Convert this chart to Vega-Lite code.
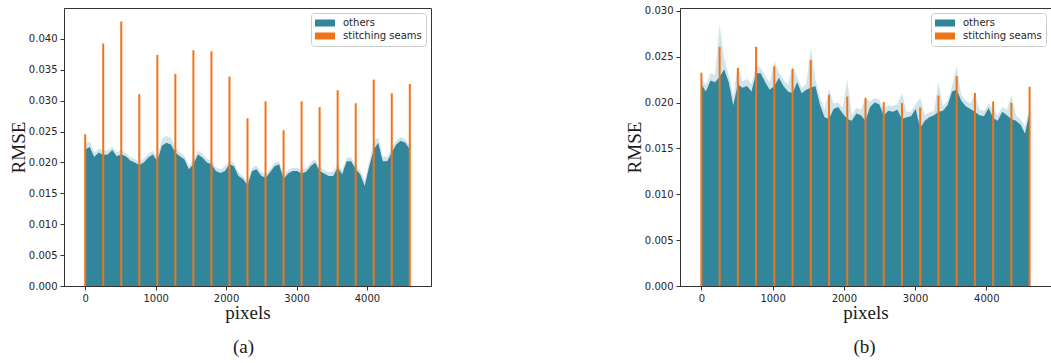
{
  "$schema": "https://vega.github.io/schema/vega-lite/v6.json",
  "background": "white",
  "padding": {"left": 8, "top": 5, "right": 0, "bottom": 5},
  "config": {
    "font": "DejaVu Sans",
    "view": {"stroke": "#333333", "strokeWidth": 1},
    "axis": {"labelFont": "DejaVu Sans", "labelFontSize": 10, "labelColor": "#262626", "tickColor": "#333333", "domainColor": "#333333", "tickSize": 4, "grid": false, "titleFont": "Liberation Serif", "titleFontSize": 19, "titleFontWeight": "normal", "titleColor": "#1a1a1a", "labelPadding": 3, "labelOverlap": false},
    "axisY": {"titlePadding": 0},
    "axisX": {"titlePadding": 0},
    "title": {"font": "Liberation Serif", "fontSize": 19, "fontWeight": "normal", "color": "#1a1a1a"}
  },
  "datasets": {
    "a_profile": [
      {"px": 0, "lo": 0.0221, "hi": 0.0230, "series": "others"},
      {"px": 64, "lo": 0.0225, "hi": 0.0234, "series": "others"},
      {"px": 128, "lo": 0.0209, "hi": 0.0216, "series": "others"},
      {"px": 192, "lo": 0.0216, "hi": 0.0222, "series": "others"},
      {"px": 256, "lo": 0.0212, "hi": 0.0220, "series": "others"},
      {"px": 320, "lo": 0.0213, "hi": 0.0219, "series": "others"},
      {"px": 384, "lo": 0.0220, "hi": 0.0226, "series": "others"},
      {"px": 448, "lo": 0.0210, "hi": 0.0217, "series": "others"},
      {"px": 512, "lo": 0.0213, "hi": 0.0220, "series": "others"},
      {"px": 576, "lo": 0.0210, "hi": 0.0215, "series": "others"},
      {"px": 640, "lo": 0.0203, "hi": 0.0209, "series": "others"},
      {"px": 704, "lo": 0.0200, "hi": 0.0205, "series": "others"},
      {"px": 768, "lo": 0.0196, "hi": 0.0202, "series": "others"},
      {"px": 832, "lo": 0.0200, "hi": 0.0206, "series": "others"},
      {"px": 896, "lo": 0.0208, "hi": 0.0214, "series": "others"},
      {"px": 960, "lo": 0.0213, "hi": 0.0219, "series": "others"},
      {"px": 1024, "lo": 0.0202, "hi": 0.0209, "series": "others"},
      {"px": 1088, "lo": 0.0227, "hi": 0.0238, "series": "others"},
      {"px": 1152, "lo": 0.0232, "hi": 0.0243, "series": "others"},
      {"px": 1216, "lo": 0.0229, "hi": 0.0240, "series": "others"},
      {"px": 1280, "lo": 0.0216, "hi": 0.0224, "series": "others"},
      {"px": 1344, "lo": 0.0210, "hi": 0.0217, "series": "others"},
      {"px": 1408, "lo": 0.0205, "hi": 0.0211, "series": "others"},
      {"px": 1472, "lo": 0.0189, "hi": 0.0195, "series": "others"},
      {"px": 1536, "lo": 0.0197, "hi": 0.0204, "series": "others"},
      {"px": 1600, "lo": 0.0213, "hi": 0.0219, "series": "others"},
      {"px": 1664, "lo": 0.0208, "hi": 0.0214, "series": "others"},
      {"px": 1728, "lo": 0.0200, "hi": 0.0206, "series": "others"},
      {"px": 1792, "lo": 0.0197, "hi": 0.0203, "series": "others"},
      {"px": 1856, "lo": 0.0186, "hi": 0.0192, "series": "others"},
      {"px": 1920, "lo": 0.0183, "hi": 0.0189, "series": "others"},
      {"px": 1984, "lo": 0.0186, "hi": 0.0194, "series": "others"},
      {"px": 2048, "lo": 0.0197, "hi": 0.0203, "series": "others"},
      {"px": 2112, "lo": 0.0194, "hi": 0.0199, "series": "others"},
      {"px": 2176, "lo": 0.0178, "hi": 0.0184, "series": "others"},
      {"px": 2240, "lo": 0.0173, "hi": 0.0178, "series": "others"},
      {"px": 2304, "lo": 0.0163, "hi": 0.0168, "series": "others"},
      {"px": 2368, "lo": 0.0186, "hi": 0.0191, "series": "others"},
      {"px": 2432, "lo": 0.0189, "hi": 0.0195, "series": "others"},
      {"px": 2496, "lo": 0.0179, "hi": 0.0185, "series": "others"},
      {"px": 2560, "lo": 0.0175, "hi": 0.0181, "series": "others"},
      {"px": 2624, "lo": 0.0184, "hi": 0.0189, "series": "others"},
      {"px": 2688, "lo": 0.0194, "hi": 0.0200, "series": "others"},
      {"px": 2752, "lo": 0.0197, "hi": 0.0202, "series": "others"},
      {"px": 2816, "lo": 0.0173, "hi": 0.0179, "series": "others"},
      {"px": 2880, "lo": 0.0182, "hi": 0.0188, "series": "others"},
      {"px": 2944, "lo": 0.0186, "hi": 0.0191, "series": "others"},
      {"px": 3008, "lo": 0.0186, "hi": 0.0191, "series": "others"},
      {"px": 3072, "lo": 0.0182, "hi": 0.0188, "series": "others"},
      {"px": 3136, "lo": 0.0185, "hi": 0.0190, "series": "others"},
      {"px": 3200, "lo": 0.0194, "hi": 0.0200, "series": "others"},
      {"px": 3264, "lo": 0.0200, "hi": 0.0205, "series": "others"},
      {"px": 3328, "lo": 0.0186, "hi": 0.0193, "series": "others"},
      {"px": 3392, "lo": 0.0182, "hi": 0.0188, "series": "others"},
      {"px": 3456, "lo": 0.0178, "hi": 0.0184, "series": "others"},
      {"px": 3520, "lo": 0.0178, "hi": 0.0185, "series": "others"},
      {"px": 3584, "lo": 0.0192, "hi": 0.0199, "series": "others"},
      {"px": 3648, "lo": 0.0181, "hi": 0.0187, "series": "others"},
      {"px": 3712, "lo": 0.0202, "hi": 0.0208, "series": "others"},
      {"px": 3776, "lo": 0.0202, "hi": 0.0208, "series": "others"},
      {"px": 3840, "lo": 0.0189, "hi": 0.0195, "series": "others"},
      {"px": 3904, "lo": 0.0181, "hi": 0.0187, "series": "others"},
      {"px": 3968, "lo": 0.0162, "hi": 0.0170, "series": "others"},
      {"px": 4032, "lo": 0.0194, "hi": 0.0201, "series": "others"},
      {"px": 4096, "lo": 0.0221, "hi": 0.0233, "series": "others"},
      {"px": 4160, "lo": 0.0232, "hi": 0.0241, "series": "others"},
      {"px": 4224, "lo": 0.0202, "hi": 0.0210, "series": "others"},
      {"px": 4288, "lo": 0.0202, "hi": 0.0209, "series": "others"},
      {"px": 4352, "lo": 0.0216, "hi": 0.0223, "series": "others"},
      {"px": 4416, "lo": 0.0229, "hi": 0.0236, "series": "others"},
      {"px": 4480, "lo": 0.0235, "hi": 0.0241, "series": "others"},
      {"px": 4544, "lo": 0.0232, "hi": 0.0238, "series": "others"},
      {"px": 4608, "lo": 0.0221, "hi": 0.0228, "series": "others"}
    ],
    "a_seams": [
      {"px": 0, "rmse": 0.02456, "series": "stitching seams"},
      {"px": 256, "rmse": 0.03924, "series": "stitching seams"},
      {"px": 512, "rmse": 0.04281, "series": "stitching seams"},
      {"px": 768, "rmse": 0.03104, "series": "stitching seams"},
      {"px": 1024, "rmse": 0.03741, "series": "stitching seams"},
      {"px": 1280, "rmse": 0.03433, "series": "stitching seams"},
      {"px": 1536, "rmse": 0.03817, "series": "stitching seams"},
      {"px": 1792, "rmse": 0.03800, "series": "stitching seams"},
      {"px": 2048, "rmse": 0.03390, "series": "stitching seams"},
      {"px": 2304, "rmse": 0.02715, "series": "stitching seams"},
      {"px": 2560, "rmse": 0.02991, "series": "stitching seams"},
      {"px": 2816, "rmse": 0.02521, "series": "stitching seams"},
      {"px": 3072, "rmse": 0.02991, "series": "stitching seams"},
      {"px": 3328, "rmse": 0.02894, "series": "stitching seams"},
      {"px": 3584, "rmse": 0.03169, "series": "stitching seams"},
      {"px": 3840, "rmse": 0.02958, "series": "stitching seams"},
      {"px": 4096, "rmse": 0.03341, "series": "stitching seams"},
      {"px": 4352, "rmse": 0.03120, "series": "stitching seams"},
      {"px": 4608, "rmse": 0.03271, "series": "stitching seams"}
    ],
    "b_profile": [
      {"px": 0, "lo": 0.0220, "hi": 0.0227, "series": "others"},
      {"px": 64, "lo": 0.0212, "hi": 0.0219, "series": "others"},
      {"px": 128, "lo": 0.0224, "hi": 0.0232, "series": "others"},
      {"px": 192, "lo": 0.0222, "hi": 0.0230, "series": "others"},
      {"px": 256, "lo": 0.0228, "hi": 0.0285, "series": "others"},
      {"px": 320, "lo": 0.0236, "hi": 0.0248, "series": "others"},
      {"px": 384, "lo": 0.0222, "hi": 0.0230, "series": "others"},
      {"px": 448, "lo": 0.0197, "hi": 0.0207, "series": "others"},
      {"px": 512, "lo": 0.0220, "hi": 0.0240, "series": "others"},
      {"px": 576, "lo": 0.0216, "hi": 0.0223, "series": "others"},
      {"px": 640, "lo": 0.0218, "hi": 0.0226, "series": "others"},
      {"px": 704, "lo": 0.0212, "hi": 0.0220, "series": "others"},
      {"px": 768, "lo": 0.0232, "hi": 0.0240, "series": "others"},
      {"px": 832, "lo": 0.0232, "hi": 0.0238, "series": "others"},
      {"px": 896, "lo": 0.0222, "hi": 0.0229, "series": "others"},
      {"px": 960, "lo": 0.0214, "hi": 0.0222, "series": "others"},
      {"px": 1024, "lo": 0.0218, "hi": 0.0245, "series": "others"},
      {"px": 1088, "lo": 0.0227, "hi": 0.0233, "series": "others"},
      {"px": 1152, "lo": 0.0218, "hi": 0.0225, "series": "others"},
      {"px": 1216, "lo": 0.0212, "hi": 0.0219, "series": "others"},
      {"px": 1280, "lo": 0.0210, "hi": 0.0240, "series": "others"},
      {"px": 1344, "lo": 0.0222, "hi": 0.0228, "series": "others"},
      {"px": 1408, "lo": 0.0210, "hi": 0.0216, "series": "others"},
      {"px": 1472, "lo": 0.0214, "hi": 0.0220, "series": "others"},
      {"px": 1536, "lo": 0.0216, "hi": 0.0260, "series": "others"},
      {"px": 1600, "lo": 0.0218, "hi": 0.0225, "series": "others"},
      {"px": 1664, "lo": 0.0198, "hi": 0.0206, "series": "others"},
      {"px": 1728, "lo": 0.0184, "hi": 0.0192, "series": "others"},
      {"px": 1792, "lo": 0.0182, "hi": 0.0215, "series": "others"},
      {"px": 1856, "lo": 0.0193, "hi": 0.0199, "series": "others"},
      {"px": 1920, "lo": 0.0195, "hi": 0.0200, "series": "others"},
      {"px": 1984, "lo": 0.0188, "hi": 0.0194, "series": "others"},
      {"px": 2048, "lo": 0.0182, "hi": 0.0225, "series": "others"},
      {"px": 2112, "lo": 0.0180, "hi": 0.0186, "series": "others"},
      {"px": 2176, "lo": 0.0188, "hi": 0.0194, "series": "others"},
      {"px": 2240, "lo": 0.0186, "hi": 0.0192, "series": "others"},
      {"px": 2304, "lo": 0.0180, "hi": 0.0205, "series": "others"},
      {"px": 2368, "lo": 0.0195, "hi": 0.0201, "series": "others"},
      {"px": 2432, "lo": 0.0200, "hi": 0.0205, "series": "others"},
      {"px": 2496, "lo": 0.0198, "hi": 0.0203, "series": "others"},
      {"px": 2560, "lo": 0.0186, "hi": 0.0193, "series": "others"},
      {"px": 2624, "lo": 0.0191, "hi": 0.0197, "series": "others"},
      {"px": 2688, "lo": 0.0190, "hi": 0.0196, "series": "others"},
      {"px": 2752, "lo": 0.0192, "hi": 0.0198, "series": "others"},
      {"px": 2816, "lo": 0.0182, "hi": 0.0210, "series": "others"},
      {"px": 2880, "lo": 0.0184, "hi": 0.0190, "series": "others"},
      {"px": 2944, "lo": 0.0185, "hi": 0.0190, "series": "others"},
      {"px": 3008, "lo": 0.0193, "hi": 0.0198, "series": "others"},
      {"px": 3072, "lo": 0.0172, "hi": 0.0205, "series": "others"},
      {"px": 3136, "lo": 0.0180, "hi": 0.0186, "series": "others"},
      {"px": 3200, "lo": 0.0184, "hi": 0.0189, "series": "others"},
      {"px": 3264, "lo": 0.0186, "hi": 0.0191, "series": "others"},
      {"px": 3328, "lo": 0.0190, "hi": 0.0222, "series": "others"},
      {"px": 3392, "lo": 0.0191, "hi": 0.0196, "series": "others"},
      {"px": 3456, "lo": 0.0197, "hi": 0.0202, "series": "others"},
      {"px": 3520, "lo": 0.0212, "hi": 0.0218, "series": "others"},
      {"px": 3584, "lo": 0.0214, "hi": 0.0240, "series": "others"},
      {"px": 3648, "lo": 0.0202, "hi": 0.0208, "series": "others"},
      {"px": 3712, "lo": 0.0196, "hi": 0.0202, "series": "others"},
      {"px": 3776, "lo": 0.0193, "hi": 0.0199, "series": "others"},
      {"px": 3840, "lo": 0.0190, "hi": 0.0210, "series": "others"},
      {"px": 3904, "lo": 0.0186, "hi": 0.0192, "series": "others"},
      {"px": 3968, "lo": 0.0185, "hi": 0.0191, "series": "others"},
      {"px": 4032, "lo": 0.0194, "hi": 0.0199, "series": "others"},
      {"px": 4096, "lo": 0.0183, "hi": 0.0193, "series": "others"},
      {"px": 4160, "lo": 0.0180, "hi": 0.0186, "series": "others"},
      {"px": 4224, "lo": 0.0190, "hi": 0.0195, "series": "others"},
      {"px": 4288, "lo": 0.0186, "hi": 0.0192, "series": "others"},
      {"px": 4352, "lo": 0.0182, "hi": 0.0208, "series": "others"},
      {"px": 4416, "lo": 0.0180, "hi": 0.0186, "series": "others"},
      {"px": 4480, "lo": 0.0176, "hi": 0.0182, "series": "others"},
      {"px": 4544, "lo": 0.0166, "hi": 0.0174, "series": "others"},
      {"px": 4608, "lo": 0.0190, "hi": 0.0196, "series": "others"}
    ],
    "b_seams": [
      {"px": 0, "rmse": 0.02324, "series": "stitching seams"},
      {"px": 256, "rmse": 0.02607, "series": "stitching seams"},
      {"px": 512, "rmse": 0.02378, "series": "stitching seams"},
      {"px": 768, "rmse": 0.02607, "series": "stitching seams"},
      {"px": 1024, "rmse": 0.02393, "series": "stitching seams"},
      {"px": 1280, "rmse": 0.02367, "series": "stitching seams"},
      {"px": 1536, "rmse": 0.02462, "series": "stitching seams"},
      {"px": 1792, "rmse": 0.02084, "series": "stitching seams"},
      {"px": 2048, "rmse": 0.02065, "series": "stitching seams"},
      {"px": 2304, "rmse": 0.02051, "series": "stitching seams"},
      {"px": 2560, "rmse": 0.02004, "series": "stitching seams"},
      {"px": 2816, "rmse": 0.01993, "series": "stitching seams"},
      {"px": 3072, "rmse": 0.01945, "series": "stitching seams"},
      {"px": 3328, "rmse": 0.02076, "series": "stitching seams"},
      {"px": 3584, "rmse": 0.02287, "series": "stitching seams"},
      {"px": 3840, "rmse": 0.02105, "series": "stitching seams"},
      {"px": 4096, "rmse": 0.02011, "series": "stitching seams"},
      {"px": 4352, "rmse": 0.01996, "series": "stitching seams"},
      {"px": 4608, "rmse": 0.02171, "series": "stitching seams"}
    ]
  },
  "spacing": 192,
  "resolve": {"scale": {"color": "independent"}, "legend": {"color": "independent"}},
  "hconcat": [
    {
      "width": 367,
      "height": 278,
      "title": {"text": "(a)", "orient": "bottom", "anchor": "middle", "frame": "group", "offset": 16, "dx": -4},
      "layer": [
        {
          "data": {"name": "a_profile"},
          "mark": {"type": "area", "color": "#b3d2dc", "opacity": 0.6},
          "encoding": {
            "x": {"field": "px", "type": "quantitative", "title": "pixels", "scale": {"domain": [-230, 4838], "nice": false, "zero": false}, "axis": {"values": [0, 1000, 2000, 3000, 4000], "format": "d"}},
            "y": {"field": "hi", "type": "quantitative", "title": "RMSE", "stack": null, "scale": {"domain": [0, 0.045], "nice": false}, "axis": {"values": [0, 0.005, 0.01, 0.015, 0.02, 0.025, 0.03, 0.035, 0.04], "format": ".3f", "labelOverlap": false}}
          }
        },
        {
          "data": {"name": "a_profile"},
          "mark": {"type": "area"},
          "encoding": {
            "x": {"field": "px", "type": "quantitative", "title": "pixels", "axis": {"values": [0, 1000, 2000, 3000, 4000], "format": "d"}},
            "y": {"field": "lo", "type": "quantitative", "title": "RMSE", "stack": null, "axis": {"values": [0, 0.005, 0.01, 0.015, 0.02, 0.025, 0.03, 0.035, 0.04], "format": ".3f", "labelOverlap": false}},
            "color": {"field": "series", "type": "nominal", "scale": {"domain": ["others", "stitching seams"], "range": ["#31869b", "#f07318"]},
              "legend": {"title": null, "orient": "top-right", "offset": 5, "fillColor": "white", "strokeColor": "#cccccc", "cornerRadius": 3, "padding": 4, "symbolType": "M-1,-0.35L1,-0.35L1,0.35L-1,0.35Z", "symbolSize": 400, "symbolStrokeWidth": 0, "symbolOpacity": 1, "labelFont": "DejaVu Sans", "labelFontSize": 10, "labelColor": "#262626", "labelOffset": 8, "rowPadding": 1, "clipHeight": 12}}
          }
        },
        {
          "data": {"name": "a_seams"},
          "mark": {"type": "bar", "size": 2},
          "encoding": {
            "x": {"field": "px", "type": "quantitative", "title": "pixels", "axis": {"values": [0, 1000, 2000, 3000, 4000], "format": "d"}},
            "y": {"field": "rmse", "type": "quantitative", "title": "RMSE", "stack": null, "axis": {"values": [0, 0.005, 0.01, 0.015, 0.02, 0.025, 0.03, 0.035, 0.04], "format": ".3f", "labelOverlap": false}},
            "color": {"field": "series", "type": "nominal"}
          }
        }
      ]
    },
    {
      "width": 371,
      "height": 278,
      "title": {"text": "(b)", "orient": "bottom", "anchor": "middle", "frame": "group", "offset": 16, "dx": -1},
      "layer": [
        {
          "data": {"name": "b_profile"},
          "mark": {"type": "area", "color": "#b3d2dc", "opacity": 0.6},
          "encoding": {
            "x": {"field": "px", "type": "quantitative", "title": "pixels", "scale": {"domain": [-230, 4838], "nice": false, "zero": false}, "axis": {"values": [0, 1000, 2000, 3000, 4000], "format": "d"}},
            "y": {"field": "hi", "type": "quantitative", "title": "RMSE", "stack": null, "scale": {"domain": [0, 0.0303], "nice": false}, "axis": {"values": [0, 0.005, 0.01, 0.015, 0.02, 0.025, 0.03], "format": ".3f", "labelOverlap": false}}
          }
        },
        {
          "data": {"name": "b_profile"},
          "mark": {"type": "area"},
          "encoding": {
            "x": {"field": "px", "type": "quantitative", "title": "pixels", "axis": {"values": [0, 1000, 2000, 3000, 4000], "format": "d"}},
            "y": {"field": "lo", "type": "quantitative", "title": "RMSE", "stack": null, "axis": {"values": [0, 0.005, 0.01, 0.015, 0.02, 0.025, 0.03], "format": ".3f", "labelOverlap": false}},
            "color": {"field": "series", "type": "nominal", "scale": {"domain": ["others", "stitching seams"], "range": ["#31869b", "#f07318"]},
              "legend": {"title": null, "orient": "top-right", "offset": 5, "fillColor": "white", "strokeColor": "#cccccc", "cornerRadius": 3, "padding": 4, "symbolType": "M-1,-0.35L1,-0.35L1,0.35L-1,0.35Z", "symbolSize": 400, "symbolStrokeWidth": 0, "symbolOpacity": 1, "labelFont": "DejaVu Sans", "labelFontSize": 10, "labelColor": "#262626", "labelOffset": 8, "rowPadding": 1, "clipHeight": 12}}
          }
        },
        {
          "data": {"name": "b_seams"},
          "mark": {"type": "bar", "size": 2},
          "encoding": {
            "x": {"field": "px", "type": "quantitative", "title": "pixels", "axis": {"values": [0, 1000, 2000, 3000, 4000], "format": "d"}},
            "y": {"field": "rmse", "type": "quantitative", "title": "RMSE", "stack": null, "axis": {"values": [0, 0.005, 0.01, 0.015, 0.02, 0.025, 0.03], "format": ".3f", "labelOverlap": false}},
            "color": {"field": "series", "type": "nominal"}
          }
        }
      ]
    }
  ]
}
